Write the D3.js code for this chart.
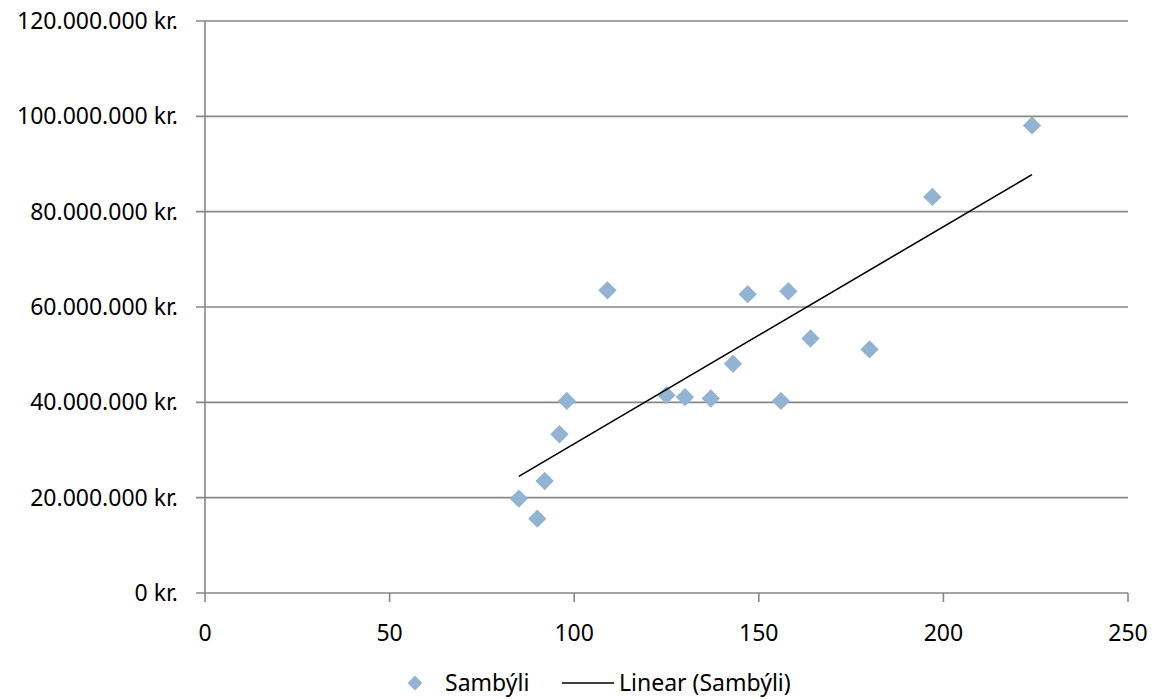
<!DOCTYPE html>
<html>
<head>
<meta charset="utf-8">
<script src="https://cdn.jsdelivr.net/npm/d3@7"></script>
<style>
    body { margin: 0; background: #fff; }
    svg text { font-family: "Noto Sans", sans-serif; font-size: 23px; fill: #000; }
    .grid line { stroke: #878787; stroke-width: 1.6; }
</style>
</head>
<body>
<div id="chart"></div>
<script>
// Sambýli: fjöldi (x) og verð (y)
const antal = [85, 90, 92, 96, 98, 109, 125, 130, 137, 143, 147, 156, 158, 164, 180, 197, 224];
const verd = [19.8e6, 15.6e6, 23.5e6, 33.3e6, 40.3e6, 63.5e6, 41.5e6, 41.1e6, 40.8e6, 48.1e6,
              62.7e6, 40.3e6, 63.3e6, 53.4e6, 51.1e6, 83.1e6, 98.1e6];
const xTicks = [0, 50, 100, 150, 200, 250];
const yTicks = [0, 20e6, 40e6, 60e6, 80e6, 100e6, 120e6];
const seriesName = "Sambýli";
const trendName = "Linear (Sambýli)";

const width = 1156, height = 699;
const margin = { top: 21, right: 28, bottom: 106, left: 205 };

const svg = d3.select("#chart").append("svg")
    .attr("width", width)
    .attr("height", height);

const x = d3.scaleLinear().domain([0, 250]).range([margin.left, width - margin.right]);
const y = d3.scaleLinear().domain([0, 120e6]).range([height - margin.bottom, margin.top]);

const fmt = v => d3.format(",")(v).replace(/,/g, ".") + " kr.";

// gridlínur + y ás
const grid = svg.append("g").attr("class", "grid");
grid.selectAll("line.h")
    .data(yTicks)
    .enter().append("line")
    .attr("class", "h")
    .attr("x1", margin.left - 9)
    .attr("x2", width - margin.right)
    .attr("y1", d => y(d))
    .attr("y2", d => y(d));

grid.append("line")
    .attr("x1", x(0)).attr("x2", x(0))
    .attr("y1", y(120e6)).attr("y2", y(0) + 9);

grid.selectAll("line.xt")
    .data(xTicks.slice(1))
    .enter().append("line")
    .attr("class", "xt")
    .attr("x1", d => x(d)).attr("x2", d => x(d))
    .attr("y1", y(0)).attr("y2", y(0) + 9);

svg.selectAll("text.ylab")
    .data(yTicks)
    .enter().append("text")
    .attr("class", "ylab")
    .attr("x", 178)
    .attr("y", d => y(d))
    .attr("dy", "0.35em")
    .attr("text-anchor", "end")
    .text(fmt);

svg.selectAll("text.xlab")
    .data(xTicks)
    .enter().append("text")
    .attr("class", "xlab")
    .attr("x", d => x(d))
    .attr("y", y(0) + 40)
    .attr("dy", "0.35em")
    .attr("text-anchor", "middle")
    .text(d => d);

// línuleg aðhvarfslína
const pts = antal.map((a, i) => ({ x: a, y: verd[i] }));
const mx = d3.mean(pts, d => d.x), my = d3.mean(pts, d => d.y);
const slope = d3.sum(pts, d => (d.x - mx) * (d.y - my)) / d3.sum(pts, d => (d.x - mx) ** 2);
const icpt = my - slope * mx;
const [x0, x1] = d3.extent(antal);

const diamond = d3.symbol().type(d3.symbolDiamond2).size(215);

svg.selectAll("path.pt")
    .data(pts)
    .enter().append("path")
    .attr("class", "pt")
    .attr("d", diamond)
    .attr("transform", d => `translate(${x(d.x)},${y(d.y)})`)
    .attr("fill", "#93b3d3");

svg.append("line")
    .attr("x1", x(x0)).attr("y1", y(icpt + slope * x0))
    .attr("x2", x(x1)).attr("y2", y(icpt + slope * x1))
    .attr("stroke", "#000")
    .attr("stroke-width", 1.6);

// skýringar
const leg = svg.append("g").attr("transform", "translate(0,683)");
leg.append("path")
    .attr("d", d3.symbol().type(d3.symbolDiamond2).size(140))
    .attr("transform", "translate(415,0)")
    .attr("fill", "#93b3d3");
leg.append("text").attr("x", 445).attr("dy", "0.35em").text(seriesName);
leg.append("line")
    .attr("x1", 562).attr("x2", 614)
    .attr("stroke", "#000").attr("stroke-width", 1.6);
leg.append("text").attr("x", 619).attr("dy", "0.35em").text(trendName);
</script>
</body>
</html>
